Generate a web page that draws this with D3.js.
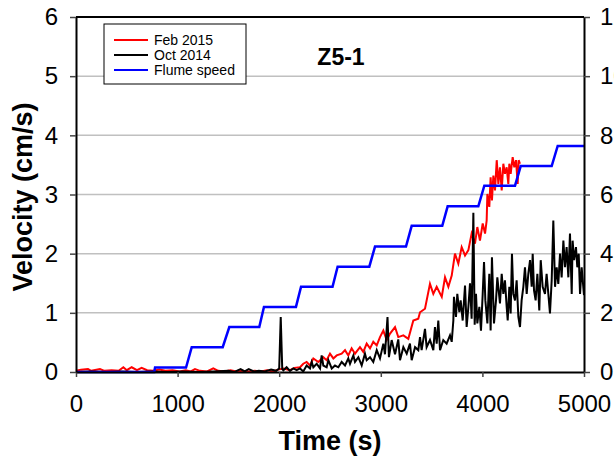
<!DOCTYPE html>
<html>
<head>
<meta charset="utf-8">
<script src="https://cdn.jsdelivr.net/npm/d3@7"></script>
<style>
  body { margin: 0; background: #fff; }
  svg { display: block; }
</style>
</head>
<body>
<svg width="614" height="465"></svg>
<script>
// Data
const xTicks = [0, 1000, 2000, 3000, 4000, 5000];
const yTicks = [0, 1, 2, 3, 4, 5, 6];
const y2Ticks = [0, 2, 4, 6, 8, 10, 12];

// Feb 2015 (velocity, cm/s)
const febTime = [0, 50, 118, 150, 236, 280, 350, 420, 466, 500, 548, 600, 646, 700, 760, 820, 880, 950, 1020, 1080,
  1130, 1171, 1220, 1290, 1351, 1400, 1460, 1520, 1580, 1640, 1700, 1760, 1820, 1880, 1940, 1990, 2040, 2106, 2150, 2205,
  2237, 2270, 2303, 2336, 2385, 2434, 2467, 2500, 2533, 2566, 2615, 2648, 2680, 2713, 2746, 2795, 2828, 2861, 2894, 2926,
  2960, 2992, 3025, 3058, 3091, 3140, 3172, 3222, 3271, 3320, 3369, 3386, 3435, 3484, 3517, 3550, 3600, 3632, 3665, 3698,
  3730, 3763, 3796, 3829, 3862, 3894, 3927, 3950, 3976, 4003, 4026, 4042, 4049, 4068, 4081, 4094, 4108, 4124, 4141, 4157,
  4173, 4190, 4206, 4222, 4239, 4255, 4265, 4278, 4298, 4314, 4331, 4347, 4357, 4370];
const febVel = [0.02, 0.04, 0.05, 0.02, 0.05, 0.02, 0.03, 0.02, 0.08, 0.03, 0.08, 0.03, 0.07, 0.03, 0.02, 0.04, 0.02, 0.03, 0.01, 0.03,
  0.01, 0.05, 0.02, 0.01, 0.06, 0.02, 0.01, 0.03, 0.01, 0.02, 0.01, 0.02, 0.01, 0.03, 0.01, 0.04, 0.06, 0.03, 0.07, 0.08,
  0.14, 0.17, 0.11, 0.23, 0.17, 0.25, 0.20, 0.31, 0.23, 0.28, 0.31, 0.37, 0.28, 0.40, 0.31, 0.42, 0.34, 0.48, 0.40, 0.51,
  0.45, 0.59, 0.70, 0.54, 0.65, 0.76, 0.59, 0.62, 0.56, 0.87, 0.90, 1.01, 1.07, 1.49, 1.32, 1.44, 1.27, 1.60, 1.44, 1.63,
  2.00, 1.83, 2.11, 1.97, 2.06, 2.34, 2.17, 2.45, 2.22, 2.51, 2.34, 2.56, 3.01, 2.79, 3.29, 2.90, 3.32, 3.07, 3.58, 3.18,
  3.46, 3.07, 3.52, 3.35, 3.46, 3.18, 3.52, 3.35, 3.63, 3.46, 3.58, 3.18, 3.58, 3.52];

// Oct 2014 (velocity, cm/s)
const octTime = [0, 150, 300, 450, 600, 750, 900, 1050, 1200, 1350, 1500, 1560, 1620, 1660, 1700, 1750, 1800, 1860, 1920, 1970,
  2000, 2015, 2030, 2041, 2073, 2106, 2139, 2172, 2205, 2237, 2270, 2303, 2320, 2336, 2369, 2402, 2418, 2434, 2467, 2484,
  2517, 2549, 2582, 2615, 2648, 2680, 2697, 2730, 2746, 2779, 2812, 2844, 2861, 2894, 2926, 2960, 2992, 3025, 3041, 3066,
  3080, 3107, 3140, 3172, 3189, 3222, 3255, 3287, 3304, 3337, 3369, 3386, 3402, 3435, 3451, 3484, 3517, 3533, 3550, 3566,
  3583, 3615, 3648, 3681, 3698, 3714, 3720, 3740, 3753, 3773, 3786, 3806, 3829, 3845, 3862, 3878, 3894, 3911, 3924, 3937,
  3950, 3970, 3986, 4003, 4016, 4029, 4049, 4068, 4081, 4094, 4114, 4134, 4147, 4160, 4173, 4190, 4206, 4222, 4239, 4249,
  4265, 4278, 4291, 4304, 4321, 4337, 4354, 4370, 4386, 4403, 4419, 4436, 4452, 4469, 4485, 4495, 4508, 4524, 4541, 4560,
  4574, 4593, 4616, 4632, 4649, 4665, 4682, 4698, 4715, 4731, 4747, 4764, 4780, 4797, 4813, 4829, 4846, 4862, 4879, 4888,
  4902, 4921, 4934, 4948, 4961, 4977, 4993, 5000];
const octVel = [0, 0.01, 0, 0.01, 0, 0.01, 0, 0.01, 0, 0.01, 0.02, 0, 0.05, 0.01, 0.05, 0.01, 0.02, 0.01, 0.04, 0.02,
  0.06, 0.93, 0.05, 0.03, 0.08, 0.02, 0.06, 0.03, 0.06, 0.01, 0.11, 0.06, 0.17, 0.08, 0.14, 0.06, 0.28, 0.11, 0.08, 0.20,
  0.06, 0.11, 0.08, 0.17, 0.11, 0.23, 0.14, 0.28, 0.17, 0.25, 0.11, 0.31, 0.20, 0.25, 0.17, 0.37, 0.23, 0.48, 0.30, 0.93,
  0.25, 0.54, 0.30, 0.55, 0.20, 0.42, 0.31, 0.48, 0.20, 0.42, 0.37, 0.59, 0.37, 0.73, 0.42, 0.54, 0.37, 0.76, 0.48, 0.87,
  0.37, 0.54, 0.48, 0.62, 0.51, 0.87, 1.27, 0.93, 1.32, 1.01, 1.21, 0.87, 1.46, 0.76, 1.10, 1.50, 0.90, 2.69, 0.80, 1.32,
  0.82, 1.10, 0.70, 1.32, 1.86, 1.21, 0.82, 1.66, 0.70, 1.94, 0.82, 1.21, 1.60, 1.38, 1.16, 1.66, 1.32, 1.55, 1.10, 0.87,
  1.44, 0.99, 2.00, 1.32, 1.21, 1.55, 0.93, 0.76, 1.21, 1.44, 1.77, 1.32, 1.66, 1.89, 1.44, 2.00, 1.38, 1.21, 1.66, 1.04,
  1.89, 1.44, 1.32, 1.66, 1.32, 0.99, 1.55, 2.56, 1.44, 1.77, 1.49, 2.00, 1.60, 2.22, 1.77, 2.11, 1.60, 2.34, 1.32, 2.22,
  1.89, 2.11, 1.77, 2.00, 1.32, 1.77, 1.44, 1.30];

// Flume speed (cm/s, right axis)
const flumeTime = [0, 770, 778, 1083, 1139, 1444, 1509, 1804, 1850, 2165, 2215, 2525, 2575, 2887, 2943, 3248,
  3304, 3605, 3658, 3960, 4019, 4321, 4377, 4682, 4741, 5000];
const flumeSpeed = [0, 0, 0.15, 0.15, 0.84, 0.84, 1.52, 1.52, 2.2, 2.2, 2.88, 2.88, 3.56, 3.56, 4.24, 4.24,
  4.94, 4.94, 5.6, 5.6, 6.3, 6.3, 6.96, 6.96, 7.64, 7.64];

const seriesNames = ["Feb 2015", "Oct 2014", "Flume speed"];
const seriesColors = ["#ff0000", "#000000", "#0000ff"];

const width = 614, height = 465;
const margin = {top: 17, right: 30, bottom: 93, left: 76};
const svg = d3.select("svg");
const font = "'Liberation Sans', Arial, sans-serif";

const x = d3.scaleLinear().domain([0, 5000]).range([margin.left, width - margin.right]);
const y = d3.scaleLinear().domain([0, 6]).range([height - margin.bottom, margin.top]);
const y2 = d3.scaleLinear().domain([0, 12]).range([height - margin.bottom, margin.top]);

// gridlines
svg.append("g")
  .selectAll("line")
  .data(yTicks.slice(1, -1))
  .join("line")
  .attr("x1", x(0)).attr("x2", x(5000))
  .attr("y1", d => y(d)).attr("y2", d => y(d))
  .attr("stroke", "#c0c0c0")
  .attr("stroke-width", 1.5);

// lines
const lineXY = (ts, vs, ys) => d3.line().x((d, i) => x(ts[i])).y(d => ys(d))(vs);

svg.append("path").attr("d", lineXY(febTime, febVel, y))
  .attr("fill", "none").attr("stroke", seriesColors[0]).attr("stroke-width", 2);
svg.append("path").attr("d", lineXY(octTime, octVel, y))
  .attr("fill", "none").attr("stroke", seriesColors[1]).attr("stroke-width", 2);
svg.append("path").attr("d", lineXY(flumeTime, flumeSpeed, y2))
  .attr("fill", "none").attr("stroke", seriesColors[2]).attr("stroke-width", 2.5);

// axes
const fmt = d3.format("d");
function styleAxis(g) {
  g.attr("font-family", font).attr("font-size", 24);
  g.select(".domain").attr("stroke", "#000").attr("stroke-width", 2);
  g.selectAll(".tick line").attr("stroke", "#444").attr("stroke-width", 1.5);
  g.selectAll(".tick text").attr("fill", "#000");
}

svg.append("g")
  .attr("transform", `translate(0,${height - margin.bottom})`)
  .call(d3.axisBottom(x).tickValues(xTicks).tickFormat(fmt).tickSize(5).tickSizeOuter(0).tickPadding(18))
  .call(styleAxis);

svg.append("g")
  .attr("transform", `translate(${margin.left},0)`)
  .call(d3.axisLeft(y).tickValues(yTicks).tickFormat(fmt).tickSize(6).tickSizeOuter(0).tickPadding(12))
  .call(styleAxis);

// right axis: labels run past the picture edge, as in the original
svg.append("g")
  .attr("transform", `translate(${width - margin.right},0)`)
  .call(d3.axisRight(y2).tickValues(y2Ticks).tickFormat(fmt).tickSize(6).tickSizeOuter(0).tickPadding(10))
  .call(styleAxis);

// top border
svg.append("line")
  .attr("x1", x(0)).attr("x2", x(5000))
  .attr("y1", y(6)).attr("y2", y(6))
  .attr("stroke", "#000").attr("stroke-width", 2);

// axis titles
svg.append("text")
  .attr("x", 330)
  .attr("y", 450)
  .attr("text-anchor", "middle")
  .attr("font-family", font).attr("font-weight", "bold").attr("font-size", 27)
  .text("Time (s)");

svg.append("text")
  .attr("transform", "translate(32,197) rotate(-90)")
  .attr("text-anchor", "middle")
  .attr("font-family", font).attr("font-weight", "bold").attr("font-size", 27)
  .text("Velocity (cm/s)");

// panel label
svg.append("text")
  .attr("x", 341).attr("y", 65)
  .attr("text-anchor", "middle")
  .attr("font-family", font).attr("font-weight", "bold").attr("font-size", 23)
  .text("Z5-1");

// legend
const legend = svg.append("g");
legend.append("rect")
  .attr("x", 104).attr("y", 24).attr("width", 142).attr("height", 60)
  .attr("fill", "#fff").attr("stroke", "#000").attr("stroke-width", 1);
seriesNames.forEach((name, i) => {
  const cy = 40 + i * 15;
  legend.append("line")
    .attr("x1", 114).attr("x2", 148).attr("y1", cy).attr("y2", cy)
    .attr("stroke", seriesColors[i]).attr("stroke-width", 2);
  legend.append("text")
    .attr("x", 154).attr("y", cy + 5)
    .attr("font-family", font).attr("font-size", 14)
    .text(name);
});
</script>
</body>
</html>
